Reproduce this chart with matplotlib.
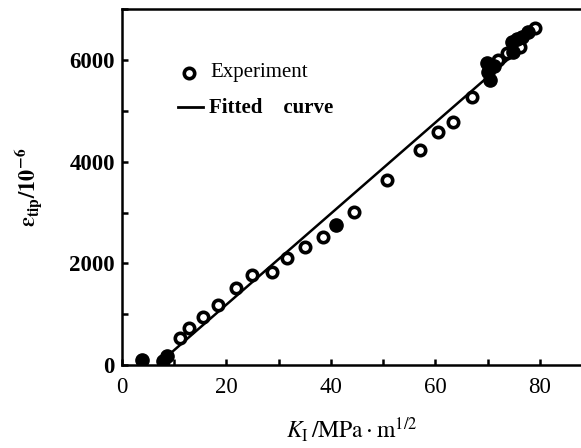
import matplotlib
matplotlib.use("Agg")
import matplotlib.pyplot as plt
from matplotlib.ticker import MultipleLocator

# experiment points (open circles)
exp_k = [11.1, 12.9, 15.6, 18.5, 21.8, 25.0, 28.7, 31.7, 35.0, 38.4, 44.5,
         50.7, 57.0, 60.5, 63.4, 66.9, 72.0, 73.6, 76.2, 79.0]
exp_eps = [525, 722, 939, 1181, 1510, 1772, 1837, 2100, 2329, 2526, 3018,
           3642, 4232, 4593, 4789, 5282, 6004, 6136, 6266, 6628]

# points that print as solid blobs in the scan
blob_k = [3.8, 7.8, 8.6, 41.0, 69.8, 70.4, 70.1, 71.2, 74.9, 74.6, 75.5, 76.5, 77.7]
blob_eps = [98, 80, 180, 2756, 5939, 5610, 5774, 5880, 6168, 6364, 6420, 6463, 6561]

# fitted curve
fit_k = [9.0, 77.0]
fit_eps = [200, 6300]

plt.rcParams['font.family'] = ['Liberation Serif', 'DejaVu Serif']
plt.rcParams['mathtext.fontset'] = 'stix'

fig = plt.figure(figsize=(5.81, 4.48), dpi=100)
ax = fig.add_axes([0.2095, 0.1853, 0.792, 0.7935])

ax.plot(fit_k, fit_eps, color='black', linewidth=1.8, zorder=2)
ax.plot(exp_k, exp_eps, linestyle='none', marker='o', markersize=7.5,
        markerfacecolor='white', markeredgecolor='black', markeredgewidth=2.6, zorder=3)
ax.plot(blob_k, blob_eps, linestyle='none', marker='o', markersize=9.5,
        markerfacecolor='black', markeredgecolor='black', zorder=3)

ax.set_xlim(0, 88)
ax.set_ylim(0, 7000)
ax.xaxis.set_major_locator(MultipleLocator(20))
ax.xaxis.set_minor_locator(MultipleLocator(10))
ax.yaxis.set_major_locator(MultipleLocator(2000))
ax.yaxis.set_minor_locator(MultipleLocator(1000))
ax.tick_params(which='both', direction='in', length=4, width=1.8, labelsize=16.5)
ax.tick_params(axis='x', pad=9)
ax.tick_params(axis='y', pad=5)
for lbl in ax.get_yticklabels():
    lbl.set_fontweight('bold')

for s in ['left', 'bottom', 'top']:
    ax.spines[s].set_linewidth(1.8)
ax.spines['right'].set_visible(False)

ax.set_xlabel(r'$K_{\rm I}\,/\mathrm{MPa}\cdot\mathrm{m}^{1/2}$', fontsize=17, labelpad=12)
ax.set_ylabel(r'$\mathbf{\varepsilon_{tip}/10^{-6}}$', fontsize=16, labelpad=18)

# legend drawn by hand like the original figure
ax.plot([12.8], [5750], linestyle='none', marker='o', markersize=7.5,
        markerfacecolor='white', markeredgecolor='black', markeredgewidth=2.6)
ax.text(17.0, 5750, 'Experiment', fontsize=15, va='center')
ax.plot([10.8, 15.6], [5080, 5080], color='black', linewidth=2)
ax.text(16.6, 5060, 'Fitted    curve', fontsize=15, va='center', fontweight='bold')

fig.savefig('out.png', dpi=100)
